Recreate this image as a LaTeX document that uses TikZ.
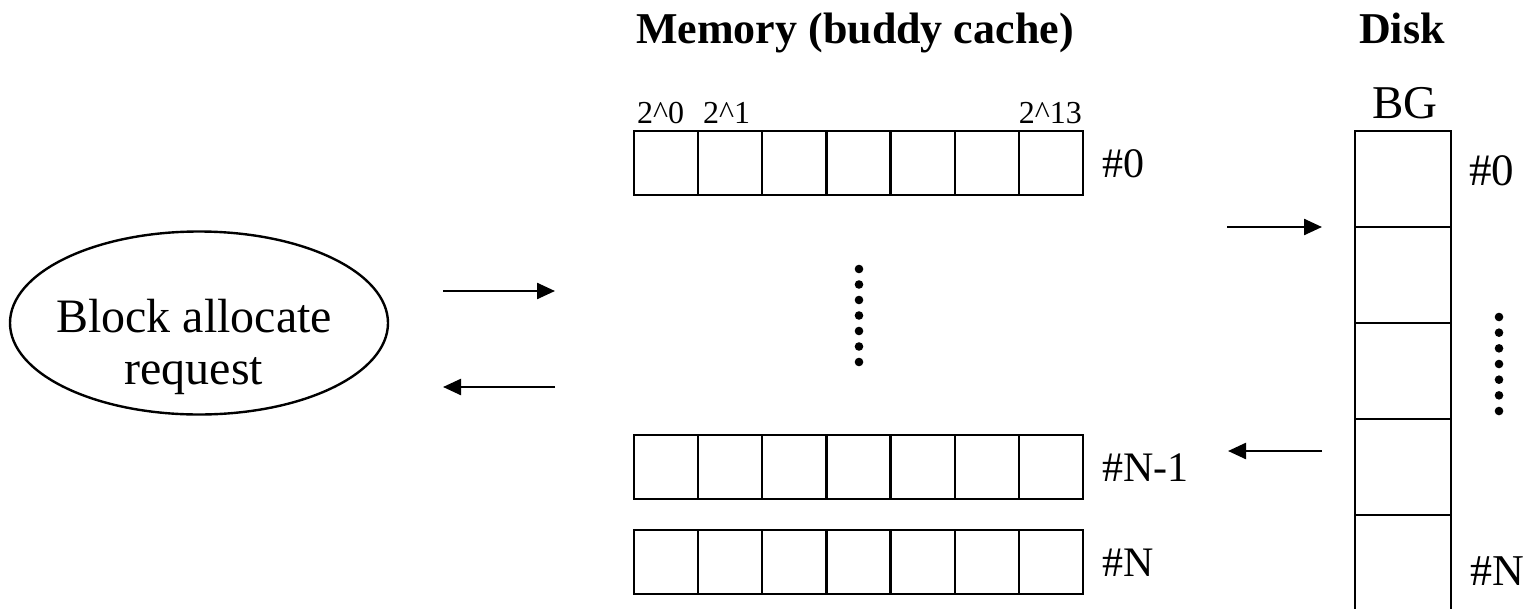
\documentclass[tikz,border=0pt]{standalone}
\usepackage{fontspec}
\setmainfont{Liberation Serif}
\usetikzlibrary{arrows.meta,shapes.geometric}

\begin{document}
\begin{tikzpicture}[x=1pt, y=-1pt, line width=2.4pt,
    every node/.style={inner sep=0pt, font=\fontsize{42}{48}\selectfont},
    flow/.style={-{Triangle[length=18pt,width=16pt]}},
    head/.style={font=\fontsize{44}{50}\selectfont\bfseries, anchor=base west},
    power/.style={font=\fontsize{32}{36}\selectfont, anchor=base west}]
    \useasboundingbox (0,0) rectangle (1531,608);

    \node[head] (memhead) at (635,43) {Memory (buddy cache)};
    \node[head] (diskhead) at (1358,43) {Disk};

    \node[draw, ellipse, minimum width=378pt, minimum height=183pt] (req) at (199,323) {};
    \node[align=center, font=\fontsize{48}{52}\selectfont] (reqtext) at (194,347) {Block allocate\\request};

    \foreach \r/\y/\lab in {0/131/\#0, n1/435/\#N-1, n/530/\#N} {
        \draw (634,\y) rectangle (1083,\y+64);
        \foreach \i in {1,...,6}
            \draw (634+\i*64.14,\y) -- (634+\i*64.14,\y+64);
        \node[anchor=west] (row\r) at (1101,\y+33) {\lab};
    }
    \node[power] (p0) at (636,123) {2\^{}0};
    \node[power] (p1) at (702,123) {2\^{}1};
    \node[power, anchor=base east] (p13) at (1083,123) {2\^{}13};

    \foreach \k in {0,...,6} \fill (859,269+\k*15.5) circle (4.3pt);

    \node[font=\fontsize{47}{52}\selectfont, anchor=base] (bg) at (1405,118) {BG};
    \draw (1355,610) -- (1355,131) -- (1451,131) -- (1451,610);
    \foreach \y in {227,323,419,515} \draw (1355,\y) -- (1451,\y);
    \node[anchor=base west, font=\fontsize{45}{50}\selectfont] (bg0) at (1468,185) {\#0};
    \node[anchor=base west, font=\fontsize{44}{50}\selectfont] (bgn) at (1469,585) {\#N};
    \foreach \k in {0,...,6} \fill (1499,317+\k*15.67) circle (4.3pt);

    \coordinate (reqout) at (443,291);
    \coordinate (memin) at (555,291);
    \coordinate (memout) at (555,387);
    \coordinate (reqin) at (443,387);
    \coordinate (loadfrom) at (1227,227);
    \coordinate (diskin) at (1322,227);
    \coordinate (diskout) at (1322,451);
    \coordinate (loadto) at (1228,451);
    \draw[flow] (reqout) -- (memin);
    \draw[flow] (memout) -- (reqin);
    \draw[flow] (loadfrom) -- (diskin);
    \draw[flow] (diskout) -- (loadto);
\end{tikzpicture}
\end{document}
